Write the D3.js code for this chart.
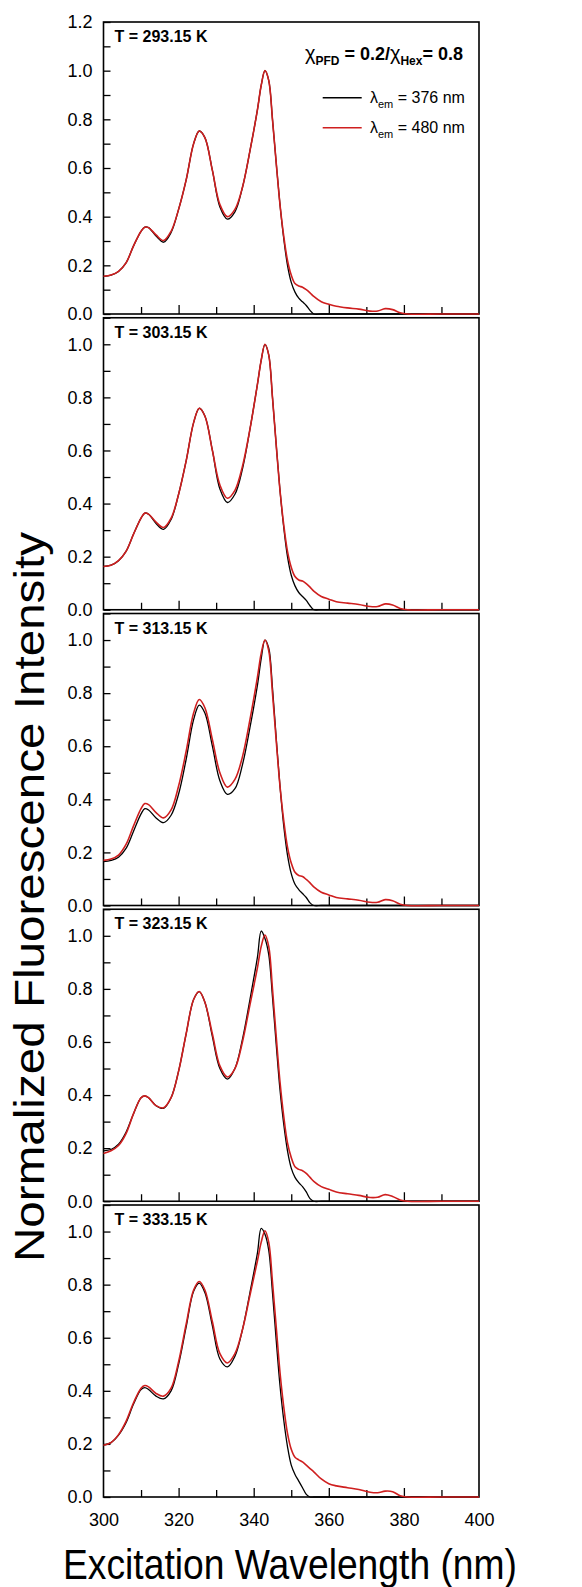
<!DOCTYPE html>
<html>
<head>
<meta charset="utf-8">
<script src="https://cdn.jsdelivr.net/npm/d3@7"></script>
<style>
  html, body { margin: 0; padding: 0; background: #fff; }
  svg { display: block; }
  text { font-family: "Liberation Sans", Arial, sans-serif; fill: #000; }
</style>
</head>
<body>
<svg id="chart" width="582" height="1587"></svg>
<script>
// ---------------- data ----------------
const wavelengths = [300,302,304,306,308,310,311,312,314,316,318,320,322,324,325.5,327,329,331,333,335,337,339,341,342,343,344,345,346,347,348,349,350,351,352,353,354,355,356,358,360,362,365,368,371,373,375,377,379,381,390,400];

const temperatures = ["T = 293.15 K", "T = 303.15 K", "T = 313.15 K", "T = 323.15 K", "T = 333.15 K"];

// lambda_em = 376 nm (black) and 480 nm (red), one pair per temperature
const em376_293 = [.155,.16,.175,.21,.28,.34,.357,.355,.32,.295,.335,.43,.55,.70,.752,.725,.59,.44,.39,.42,.52,.67,.84,.94,1.0,.96,.80,.62,.45,.31,.20,.13,.09,.065,.05,.035,.015,0,0,0,0,0,0,0,0,0,0,0,0,0,0];
const em480_293 = [.155,.16,.175,.21,.28,.34,.357,.355,.325,.302,.34,.43,.55,.70,.752,.725,.59,.45,.40,.43,.52,.67,.84,.94,1.0,.96,.80,.62,.45,.32,.22,.16,.125,.115,.11,.10,.087,.072,.05,.04,.032,.025,.02,.012,.012,.022,.018,.005,0,0,0];

const em376_303 = [.163,.168,.185,.22,.285,.345,.364,.36,.325,.303,.34,.435,.56,.705,.759,.73,.60,.455,.404,.435,.53,.68,.85,.94,1.0,.96,.80,.62,.45,.31,.20,.13,.09,.065,.05,.035,.015,0,0,0,0,0,0,0,0,0,0,0,0,0,0];
const em480_303 = [.163,.168,.185,.22,.285,.345,.364,.36,.33,.31,.345,.435,.56,.705,.759,.73,.60,.47,.42,.45,.54,.68,.85,.94,1.0,.96,.80,.62,.45,.32,.22,.16,.125,.112,.108,.098,.085,.07,.05,.04,.03,.025,.02,.012,.012,.022,.018,.005,0,0,0];

const em376_313 = [.165,.17,.182,.215,.28,.345,.365,.36,.33,.312,.34,.42,.55,.70,.755,.725,.60,.47,.419,.44,.53,.67,.83,.93,1.0,.97,.82,.63,.45,.30,.19,.12,.08,.06,.045,.03,.01,0,0,0,0,0,0,0,0,0,0,0,0,0,0];
const em480_313 = [.17,.175,.19,.23,.30,.365,.384,.38,.35,.33,.36,.45,.58,.725,.776,.745,.625,.50,.446,.475,.56,.70,.86,.95,1.0,.96,.80,.62,.45,.32,.22,.16,.125,.113,.109,.098,.085,.07,.05,.04,.03,.025,.02,.012,.012,.022,.018,.005,0,0,0];

const em376_323 = [.19,.195,.215,.26,.33,.39,.397,.39,.36,.35,.39,.49,.63,.76,.79,.75,.62,.50,.46,.50,.61,.76,.92,1.018,.99,.93,.77,.59,.42,.29,.19,.125,.09,.07,.055,.035,.01,0,0,0,0,0,0,0,0,0,0,0,0,0,0];
const em480_323 = [.18,.19,.21,.255,.33,.39,.397,.39,.36,.352,.39,.49,.63,.76,.79,.75,.63,.51,.468,.50,.60,.74,.88,.96,1.003,.96,.80,.62,.45,.32,.22,.165,.13,.12,.115,.105,.09,.075,.055,.045,.035,.028,.022,.014,.015,.025,.018,.005,0,0,0];

const em376_333 = [.195,.205,.233,.28,.35,.405,.412,.405,.38,.37,.40,.50,.64,.775,.806,.77,.645,.52,.49,.53,.63,.77,.92,1.012,.99,.93,.77,.59,.42,.29,.19,.12,.085,.06,.035,.01,0,0,0,0,0,0,0,0,0,0,0,0,0,0,0];
const em480_333 = [.195,.205,.235,.285,.355,.41,.42,.415,.39,.38,.41,.51,.65,.78,.812,.78,.66,.54,.505,.54,.63,.76,.89,.96,1.003,.96,.81,.64,.47,.34,.24,.18,.15,.14,.132,.12,.107,.095,.068,.05,.042,.035,.028,.018,.016,.022,.02,.005,0,0,0];

const series376 = [em376_293, em376_303, em376_313, em376_323, em376_333];
const series480 = [em480_293, em480_303, em480_313, em480_323, em480_333];

const yMaxFirst = 1.2, yMaxOther = 1.1;
const yTickLabelsFirst = [0, 0.2, 0.4, 0.6, 0.8, 1.0, 1.2];
const yTickLabelsOther = [0, 0.2, 0.4, 0.6, 0.8, 1.0];
const xTickLabels = [300, 320, 340, 360, 380, 400];
const xMinorTicks = [310, 330, 350, 370, 390];
const legendLabels = ["376 nm", "480 nm"];

// ---------------- layout ----------------
const svg = d3.select("#chart");
const left = 103.5, right = 479;
const panelTop0 = 22, panelStep = 295.75, panelH = 292;
const black = "#000", red = "#cf1f1f";

const x = d3.scaleLinear().domain([300, 400]).range([left, right]);

temperatures.forEach((label, i) => {
  const top = panelTop0 + i * panelStep;
  const bottom = top + panelH;
  const yMax = i === 0 ? yMaxFirst : yMaxOther;
  const y = d3.scaleLinear().domain([0, yMax]).range([bottom, top]);
  const g = svg.append("g");

  // frame
  g.append("rect").attr("x", left).attr("y", top)
    .attr("width", right - left).attr("height", panelH)
    .attr("fill", "none").attr("stroke", "#000").attr("stroke-width", 1.6);

  // y ticks every 0.1 (inward)
  const yMinor = d3.range(0, Math.round(yMax * 10) + 1).map(k => k / 10);
  g.append("g").attr("transform", `translate(${left},0)`)
    .call(d3.axisLeft(y).tickValues(yMinor).tickSize(-7).tickFormat(""))
    .call(a => a.select(".domain").remove())
    .call(a => a.selectAll("line").attr("stroke-width", 1.3));
  // y tick labels
  g.append("g").attr("transform", `translate(${left},0)`)
    .call(d3.axisLeft(y).tickValues(i === 0 ? yTickLabelsFirst : yTickLabelsOther)
      .tickSize(0).tickPadding(11).tickFormat(d3.format(".1f")))
    .call(a => a.select(".domain").remove())
    .call(a => a.selectAll("text").attr("font-size", 18)
      .attr("font-family", "Liberation Sans, Arial, sans-serif").attr("fill", "#000"));

  // x ticks (inward)
  g.append("g").attr("transform", `translate(0,${bottom})`)
    .call(d3.axisBottom(x).tickValues(xTickLabels.slice(1, -1)).tickSize(-9).tickFormat(""))
    .call(a => a.select(".domain").remove())
    .call(a => a.selectAll("line").attr("stroke-width", 1.3));
  g.append("g").attr("transform", `translate(0,${bottom})`)
    .call(d3.axisBottom(x).tickValues(xMinorTicks).tickSize(-7).tickFormat(""))
    .call(a => a.select(".domain").remove())
    .call(a => a.selectAll("line").attr("stroke-width", 1.3));

  if (i === temperatures.length - 1) {
    g.append("g").attr("transform", `translate(0,${bottom})`)
      .call(d3.axisBottom(x).tickValues(xTickLabels).tickSize(0).tickPadding(16).tickFormat(d3.format("d")))
      .call(a => a.select(".domain").remove())
      .call(a => a.selectAll("text").attr("font-size", 18)
        .attr("font-family", "Liberation Sans, Arial, sans-serif").attr("fill", "#000"));
  }

  // curves
  const line = d3.line()
    .x((d, k) => x(wavelengths[k]))
    .y(d => y(Math.max(0, d)))
    .curve(d3.curveCatmullRom.alpha(0.5));
  g.append("path").datum(series376[i]).attr("d", line)
    .attr("fill", "none").attr("stroke", black).attr("stroke-width", 1.3);
  g.append("path").datum(series480[i]).attr("d", line)
    .attr("fill", "none").attr("stroke", red).attr("stroke-width", 1.6);

  // temperature label
  g.append("text").attr("x", left + 11).attr("y", top + 20)
    .attr("font-size", 16).attr("font-weight", "bold").text(label);
});

// ---------------- legend ----------------
const title = svg.append("text").attr("x", 463).attr("y", 59.5)
  .attr("text-anchor", "end").attr("font-weight", "bold").attr("font-size", 18);
title.append("tspan").text("χ").attr("font-weight", "normal").attr("font-size", 20);
title.append("tspan").text("PFD").attr("font-size", 12).attr("dy", 5);
title.append("tspan").text(" = 0.2/").attr("dy", -5);
title.append("tspan").text("χ").attr("font-weight", "normal").attr("font-size", 20);
title.append("tspan").text("Hex").attr("font-size", 12).attr("dy", 5);
title.append("tspan").text("= 0.8").attr("dy", -5);

[black, red].forEach((c, k) => {
  const yy = 97.7 + k * 30;
  svg.append("line").attr("x1", 322.7).attr("x2", 361.7).attr("y1", yy).attr("y2", yy)
    .attr("stroke", c).attr("stroke-width", 1.6);
  const t = svg.append("text").attr("x", 370).attr("y", yy + 4.8).attr("font-size", 16);
  t.append("tspan").text("λ");
  t.append("tspan").text("em").attr("font-size", 11).attr("dy", 5);
  t.append("tspan").text(" = " + legendLabels[k]).attr("dy", -5);
});

// ---------------- axis titles ----------------
svg.append("text")
  .attr("transform", "translate(44,897) rotate(-90)")
  .attr("text-anchor", "middle").attr("font-size", 42)
  .attr("textLength", 730).attr("lengthAdjust", "spacingAndGlyphs")
  .text("Normalized Fluorescence Intensity");

svg.append("text")
  .attr("x", 290).attr("y", 1579)
  .attr("text-anchor", "middle").attr("font-size", 42)
  .attr("textLength", 454).attr("lengthAdjust", "spacingAndGlyphs")
  .text("Excitation Wavelength (nm)");
</script>
</body>
</html>
